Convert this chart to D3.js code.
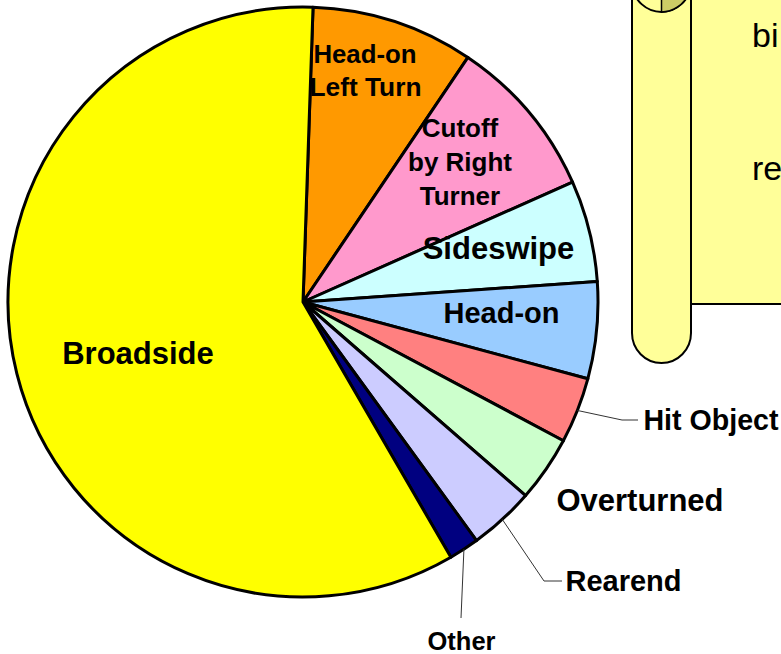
<!DOCTYPE html>
<html>
<head>
<meta charset="utf-8">
<style>html,body{margin:0;padding:0;background:#fff;overflow:hidden}svg{display:block}</style>
<script src="https://cdn.jsdelivr.net/npm/d3@7/dist/d3.min.js"></script>
</head>
<body>
<script>
const categories = ["Head-on Left Turn","Cutoff by Right Turner","Sideswipe","Head-on","Hit Object","Overturned","Rearend","Other","Broadside"];
const shares = [8.9,8.9,5.55,5.3,3.6,3.6,3.6,1.65,58.9];
const sliceColors = ["#ff9900","#ff99cc","#ccffff","#99ccff","#ff8080","#ccffcc","#ccccff","#000080","#ffff00"];

const W = 781, H = 654, cx = 303, cy = 302, R = 295;
const rad = d3.scaleLinear().domain([0,360]).range([0,2*Math.PI]);
const start = rad(1.95);

const svg = d3.select("body").append("svg").attr("width",W).attr("height",H)
  .attr("font-family","'Liberation Sans',Arial,sans-serif");

// Scroll shape on the right
const scroll = svg.append("g").attr("stroke","#000").attr("stroke-width",2).attr("fill","#ffff99");
scroll.append("rect").attr("x",691).attr("y",-5).attr("width",100).attr("height",309);
scroll.append("path").attr("d","M632,-20 V333 A29.5,30 0 0 0 691,333 V-20 Z");
scroll.append("path").attr("d","M661.5,12 A30,30 0 0 0 691,-15 L632,-15 A30,30 0 0 0 661.5,12 Z").attr("fill","#ffff99");
scroll.append("path").attr("d","M661.5,-15 V12 A30,30 0 0 0 688,-5 L688,-15 Z").attr("fill","#cccc66").attr("stroke-width",1.5);
svg.append("text").attr("x",752).attr("y",47).attr("font-size",34).text("bi");
svg.append("text").attr("x",752).attr("y",180).attr("font-size",34).text("re");

// Pie
const pie = d3.pie().sort(null).value(d=>d).startAngle(start).endAngle(start+2*Math.PI);
const arcs = pie(shares);
const arc = d3.arc().innerRadius(0).outerRadius(R);
const g = svg.append("g").attr("transform",`translate(${cx},${cy})`);
g.selectAll("path").data(arcs).join("path")
  .attr("d",arc)
  .attr("fill",(d,i)=>sliceColors[i])
  .attr("stroke","#000").attr("stroke-width",3).attr("stroke-linejoin","round");

// Leader lines start on the slice rim
const rim = d3.arc().innerRadius(R).outerRadius(R);
const leaders = [
  {name:"Hit Object", via:[[622,420],[638,420]]},
  {name:"Rearend", via:[[544,581],[562,581]]},
  {name:"Other", via:[[461,618]]}
];
const line = d3.line();
leaders.forEach(l=>{
  const a = arcs[categories.indexOf(l.name)];
  const c = rim.centroid(a);
  svg.append("path").attr("fill","none").attr("stroke","#333").attr("stroke-width",1)
    .attr("d",line([[cx+c[0],cy+c[1]],...l.via]));
});

// Labels
const labels = [
  {t:"Head-on",x:365,y:63,s:25.8},{t:"Left Turn",x:365.5,y:96,s:26.3},
  {t:"Cutoff",x:460,y:137,s:26},{t:"by Right",x:460,y:171,s:26},{t:"Turner",x:460,y:205,s:26},
  {t:"Sideswipe",x:498.5,y:259,s:31},
  {t:"Head-on",x:501.5,y:323,s:29},
  {t:"Hit Object",x:711,y:430,s:28.6},
  {t:"Overturned",x:640,y:511,s:31},
  {t:"Rearend",x:623.5,y:591,s:29},
  {t:"Other",x:461.5,y:650,s:25.5},
  {t:"Broadside",x:138,y:364,s:31}
];
svg.append("g").attr("font-weight","bold").attr("text-anchor","middle").attr("fill","#000")
  .selectAll("text").data(labels).join("text")
  .attr("x",d=>d.x).attr("y",d=>d.y).attr("font-size",d=>d.s).text(d=>d.t);
</script>
</body>
</html>
